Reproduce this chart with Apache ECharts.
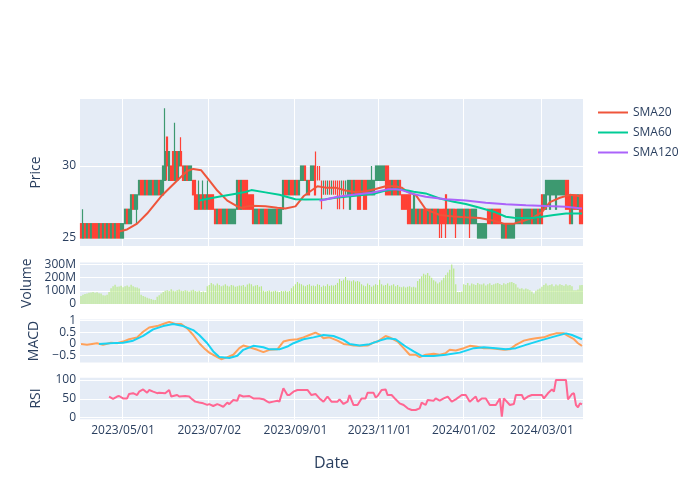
<!DOCTYPE html>
<html><head><meta charset="utf-8">
<script src="https://cdn.jsdelivr.net/npm/echarts@6/dist/echarts.min.js"></script>
<style>html,body{margin:0;padding:0;background:#fff}#c{width:700px;height:500px}</style>
</head><body><div id="c"></div>
<script>
// ---------- data ----------
const startDate = '2023-03-30';
const nDays = 251;
const holidays = ['2023-04-07','2023-05-29','2023-06-19','2023-07-04','2023-09-04','2023-11-23','2023-12-25','2024-01-01','2024-01-15','2024-02-19'];

const tickIdx = [21, 64, 107, 149, 191, 230];
const tickLabels = ['2023/05/01','2023/07/02','2023/09/01','2023/11/01','2024/01/02','2024/03/01'];

const opens = [
26,25,26,25,26,25,26,26,26,25, 26,25,26,25,26,25,26,25,26,26,
25,25,26,27,26,26,28,27,27,28, 29,29,28,29,28,28,29,28,28,29,
28,28,29,32,29,30,31,29,31,30, 31,30,29,30,29,29,29,29,28,27,
28,27,28,27,28,28,28,27,26,27, 27,26,26,27,26,26,26,26,27,29,
27,29,29,29,28,28,28,26,26,27, 26,26,27,27,26,26,26,26,27,26,
26,27,29,29,28,29,29,28,29,28, 29,29,30,28,29,29,29,30,30,30,
29,28,29,28,29,28,29,29,29,29, 28,29,28,28,27,29,28,29,29,29,
28,29,29,28,28,28,28,29,29,29, 29,29,30,30,29,28,29,29,28,29,
28,28,28,28,28,26,26,27,26,27, 26,27,27,26,27,26,27,27,26,27,
27,27,28,26,27,26,27,27,26,26, 26,27,26,26,27,26,26,26,25,25,
25,25,25,27,27,26,27,27,27,27, 25,25,26,25,25,25,25,26,26,26,
27,26,26,26,26,27,26,26,27,26, 28,27,27,28,27,28,28,27,28,28,
28,28,29,29,28,26,28,28,27,28, 28];
const closes = [
25,26,25,26,25,26,25,25,25,26, 25,26,25,26,25,26,25,26,25,25,
26,26,27,26,27,28,27,28,28,29, 28,28,29,28,29,29,28,29,29,28,
29,30,31,30,31,29,29,31,29,31, 30,29,30,29,30,30,28,27,27,28,
27,28,27,28,27,27,27,26,27,26, 26,27,27,26,27,27,27,27,29,27,
29,27,27,27,27,27,26,27,27,26, 27,27,26,26,27,27,27,27,26,27,
27,29,28,28,29,28,28,29,28,29, 30,30,29,29,28,30,30,28,29,29,
27,29,28,29,28,29,28,28,27,27, 29,27,29,29,29,28,29,28,27,27,
29,27,27,29,29,29,29,30,30,30, 30,30,28,28,28,29,28,28,29,28,
27,27,27,26,26,27,28,26,27,26, 27,26,26,27,26,27,26,26,27,26,
26,26,26,27,26,27,26,26,27,27, 27,26,27,27,26,27,27,27,26,26,
26,26,26,26,26,27,26,26,26,26, 26,26,25,26,26,26,26,27,27,27,
26,27,27,27,27,26,27,27,26,27, 26,28,29,29,29,29,29,29,29,29,
29,29,27,27,26,28,27,27,28,26, 26];
const lows = [
25,25,25,25,25,25,25,25,25,25, 25,25,25,25,25,25,25,25,25,25,
25,25,26,26,26,26,27,27,26,28, 28,28,28,28,28,28,28,28,28,28,
28,28,29,29,29,29,29,29,29,29, 30,29,29,29,29,29,28,27,27,27,
27,27,27,27,27,27,27,26,26,26, 26,26,26,26,26,26,26,26,27,27,
27,27,27,27,27,27,26,26,26,26, 26,26,26,26,26,26,26,26,26,26,
26,27,28,28,28,28,28,28,28,28, 29,29,29,28,28,29,29,28,29,29,
27,28,28,28,28,28,28,28,27,27, 28,27,28,28,27,28,28,28,27,27,
28,27,27,28,28,28,28,29,29,29, 29,29,28,28,28,28,28,28,28,28,
27,27,27,26,26,26,26,26,26,26, 26,26,26,26,26,26,26,26,26,25,
25,26,25,26,26,26,26,25,26,26, 26,26,26,26,25,26,26,26,25,25,
25,25,25,26,26,26,26,26,26,26, 25,25,25,25,25,25,25,26,26,26,
26,26,26,26,26,26,26,26,26,26, 26,27,27,28,27,28,28,27,28,28,
28,28,27,27,26,26,27,27,27,26, 26];
const highs = [
26,27,26,26,26,26,26,26,26,26, 26,26,26,26,26,26,26,26,26,26,
26,26,27,27,27,28,28,28,28,29, 29,29,29,29,29,29,29,29,29,29,
29,30,34,32,31,30,31,33,31,31, 32,30,30,30,30,30,29,29,28,29,
28,29,28,29,28,28,28,27,27,27, 27,27,27,27,27,27,27,27,29,29,
29,29,29,29,28,28,28,27,27,27, 27,27,27,27,27,27,27,27,27,27,
27,29,29,29,29,29,29,29,29,29, 30,30,30,29,29,30,30,31,30,30,
29,29,29,29,29,29,29,29,29,29, 29,29,29,29,29,29,29,29,29,29,
29,29,29,29,29,30,29,30,30,30, 30,30,30,30,29,29,29,29,29,29,
28,28,28,28,28,27,28,27,27,27, 27,27,27,27,27,27,27,27,27,27,
27,27,28,27,27,27,27,27,27,27, 27,27,27,27,27,27,27,27,26,26,
26,26,26,27,27,27,27,27,27,27, 26,26,26,26,26,26,26,27,27,27,
27,27,27,27,27,27,27,27,27,27, 28,28,29,29,29,29,29,29,29,29,
29,29,29,29,28,28,28,28,28,28, 28];
// volume, millions
const volumes = [
60,70,75,80,85,88,92,85,90,82, 80,67,65,70,92,120,135,147,130,132,
138,128,135,140,130,147,135,128,125,117, 70,60,55,48,42,38,33,30,55,67,
80,92,100,105,98,112,100,96,105,110, 100,98,105,100,95,102,108,98,95,100,
92,95,90,135,145,160,150,140,155,145, 135,140,150,138,132,145,140,130,135,140,
138,145,130,148,155,150,135,140,145,130, 135,100,95,98,102,95,97,100,95,92,
98,96,100,95,98,120,135,150,167,155, 150,140,135,145,150,138,140,135,150,145,
130,140,135,150,138,142,140,145,160,190, 175,185,205,180,178,172,180,170,175,168,
150,140,135,155,145,130,140,150,145,185, 150,140,145,155,138,142,150,135,145,130,
128,132,125,130,135,128,130,125,175,190, 210,230,222,235,215,200,180,170,155,165,
180,200,220,240,260,300,270,150,92,92, 95,150,145,160,140,155,150,145,160,150,
148,155,140,150,158,145,150,155,160,152, 145,158,150,160,165,167,160,150,125,115,
120,110,118,112,105,95,80,100,110,117, 130,145,155,140,145,150,135,148,140,150,
145,138,150,140,145,135,105,105,110,142, 145];

const sma20Idx = [19,23,28,33,40,48,53,56,60,64,68,73,78,80,83,85,92,98,102,107,111,115,118,122,127,132,137,142,147,152,157,160,163,167,172,179,186,192,199,206,211,216,221,226,230,234,239,244,249,250];
const sma20Val = [25.45,25.6,26.0,26.7,27.9,29.0,29.65,29.8,29.7,29.0,28.3,27.6,27.2,27.1,27.2,27.25,27.2,27.1,27.05,27.2,27.9,28.3,28.6,28.5,28.5,28.3,28.2,28.25,28.4,28.6,28.6,28.5,28.2,28.0,27.0,26.6,26.5,26.45,26.4,26.2,26.0,26.0,26.2,26.45,26.8,27.5,27.8,28.0,27.9,27.9];
const sma60Idx = [59,62,70,78,82,85,92,99,107,112,122,127,137,147,152,157,163,166,172,179,186,192,199,206,212,216,224,230,236,242,250];
const sma60Val = [27.6,27.7,27.9,28.1,28.2,28.33,28.17,28.0,27.7,27.68,27.69,27.8,27.94,28.1,28.29,28.4,28.3,28.22,28.1,27.75,27.52,27.36,27.1,26.83,26.48,26.41,26.37,26.48,26.6,26.71,26.71];
const sma120Idx = [119,121,128,137,145,153,157,160,166,172,182,192,202,212,222,232,242,250];
const sma120Val = [27.6,27.64,27.87,28.03,28.15,28.38,28.38,28.33,28.05,27.87,27.69,27.6,27.45,27.34,27.27,27.22,27.18,27.06];

const macdIdx = [0,3,8,11,15,18,21,24,28,31,34,38,41,44,47,50,53,56,59,62,64,68,70,73,76,79,81,84,88,91,94,98,101,104,108,111,114,117,119,121,124,128,131,134,136,139,143,146,148,152,154,158,161,164,167,169,172,176,179,182,184,187,191,194,197,201,204,207,211,214,217,221,224,227,231,234,237,241,243,246,248,250];
const macdVal = [0.0,-0.03,0.03,-0.04,0.05,0.03,0.1,0.2,0.28,0.52,0.7,0.76,0.85,0.94,0.85,0.85,0.66,0.38,0.03,-0.23,-0.37,-0.56,-0.65,-0.56,-0.46,-0.18,-0.07,-0.14,-0.25,-0.35,-0.25,-0.23,0.1,0.17,0.2,0.28,0.38,0.48,0.4,0.24,0.28,0.14,0.0,-0.04,-0.07,-0.08,-0.07,0.06,0.1,0.34,0.28,0.1,-0.18,-0.46,-0.46,-0.56,-0.46,-0.42,-0.46,-0.39,-0.25,-0.28,-0.18,-0.08,-0.11,-0.18,-0.18,-0.21,-0.25,-0.23,-0.04,0.14,0.2,0.24,0.28,0.38,0.45,0.45,0.34,0.2,0.03,-0.08];
const signalIdx = [9,15,21,26,31,36,41,46,51,56,59,63,66,69,74,78,81,86,91,94,99,103,106,111,116,121,126,131,134,139,144,149,153,157,162,166,170,176,182,189,196,201,207,212,217,222,229,236,242,245,250];
const signalVal = [0.0,0.03,0.05,0.14,0.34,0.62,0.76,0.85,0.76,0.59,0.38,0.03,-0.32,-0.56,-0.6,-0.5,-0.25,-0.08,-0.14,-0.23,-0.23,-0.11,0.03,0.2,0.28,0.38,0.34,0.17,0.0,-0.07,-0.01,0.14,0.24,0.2,-0.11,-0.32,-0.51,-0.51,-0.46,-0.37,-0.18,-0.14,-0.18,-0.23,-0.18,-0.04,0.14,0.31,0.45,0.38,0.2];

const rsiIdx = [14,16,18,19,21,23,24,26,28,29,31,33,34,36,38,39,42,44,45,48,49,52,54,55,57,59,61,63,64,66,68,69,71,73,74,76,78,79,81,84,86,89,91,93,94,96,98,99,101,103,104,106,108,111,113,115,117,119,121,123,125,128,129,131,133,134,136,138,140,142,143,146,147,148,150,152,153,155,157,159,161,163,165,167,169,170,172,173,176,177,179,181,183,185,187,190,192,194,197,198,200,202,204,207,209,210,211,214,216,217,220,221,223,225,227,230,231,233,235,236,237,242,243,245,246,247,248,249,250];
const rsiVal = [56,50,56,57.5,51,51,63,65,60,69,75,66,73.5,69,65,66,65,73.5,56,60,56,57.5,56,51,42.5,40,38,34,36,31,36,34,29,40,36,47,45,60,56,57.5,51,51,49,42.5,40,42.5,45,42.5,78,60,60,69,73.5,73.5,73.5,60,63,51,42.5,56,42.5,42.5,48.7,36.3,42.5,60,33.6,33.6,51,51,66,66,54,57.5,73.5,75,60,60,48.7,38,33.6,24.8,20.4,20.4,24.8,40,33.6,47,45,51,45,51,56,42.5,48.7,60,60,42.5,56,42.5,51,51,33.6,33.6,51,3,51,33.6,36.3,60,60,48.7,56,60,60,60,51,64.6,75,69,100,100,48.7,62.8,64.6,33.6,27.4,38,35.4];

// ---------- build ----------
function tradingDays(start, n, hol) {
  const out = [];
  const d = new Date(start + 'T00:00:00Z');
  while (out.length < n) {
    const wd = d.getUTCDay();
    const iso = d.toISOString().slice(0, 10);
    if (wd !== 0 && wd !== 6 && hol.indexOf(iso) < 0) out.push(iso.replace(/-/g, '/'));
    d.setUTCDate(d.getUTCDate() + 1);
  }
  return out;
}
const categories = tradingDays(startDate, nDays, holidays);
const candles = closes.map((c, i) => [opens[i], c, lows[i], highs[i]]);
const pairs = (ix, v) => ix.map((x, k) => [x, v[k]]);

const FONT = '"Open Sans", verdana, arial, sans-serif';
const TXT = '#2a3f5f';
const BG = '#E5ECF6';
const L = 80, W = 503;
const grids = [
  { left: L, width: W, top: 99, height: 147 },
  { left: L, width: W, top: 262.5, height: 41.5 },
  { left: L, width: W, top: 319.5, height: 43 },
  { left: L, width: W, top: 377.7, height: 41.6 }
].map(g => Object.assign(g, { show: true, backgroundColor: BG, borderWidth: 0 }));

const isTick = (i) => tickIdx.indexOf(i) >= 0;
function xAx(gi, showLabel) {
  const ax = {
    type: 'category', gridIndex: gi, data: categories, boundaryGap: true,
    axisLine: { show: false }, axisTick: { show: false },
    axisLabel: { show: showLabel, interval: (i) => isTick(i), margin: 5,
      formatter: (v, i) => tickLabels[tickIdx.indexOf(i)] || '',
      fontFamily: FONT, fontSize: 12, color: TXT },
    splitLine: { show: true, interval: (i) => isTick(i), lineStyle: { color: '#fff', width: 1 } }
  };
  if (showLabel) {
    ax.name = 'Date'; ax.nameLocation = 'middle'; ax.nameGap = 36;
    ax.nameTextStyle = { fontFamily: FONT, fontSize: 16, color: TXT };
  }
  return ax;
}
function yAx(gi, name, min, max, ticks, fmt) {
  return {
    type: 'value', gridIndex: gi, min: min, max: max, name: name, position: 'left',
    nameLocation: 'middle', nameGap: 37,
    nameTextStyle: { fontFamily: FONT, fontSize: 14, color: TXT },
    axisLine: { show: false },
    axisTick: { show: false, customValues: ticks },
    axisLabel: { customValues: ticks, margin: 4, hideOverlap: false, showMinLabel: true, showMaxLabel: true,
      fontFamily: FONT, fontSize: 12, color: TXT, formatter: fmt },
    splitLine: { show: true, lineStyle: { color: '#fff', width: 1 } }
  };
}
const minus = (v) => v < 0 ? '\u2212' + Math.abs(v) : String(v);
// MACD ticks are close together: split across two coincident axes so none is dropped
const macdTicksA = [-0.5, 0.5];
const macdTicksB = [0, 1];
const macdAxisB = yAx(2, '', -0.79, 1.04, macdTicksB, minus);

const option = {
  animation: false,
  textStyle: { fontFamily: FONT },
  grid: grids,
  legend: {
    data: ['SMA20', 'SMA60', 'SMA120'], orient: 'vertical', left: 598, top: 104.5, padding: 0,
    icon: 'rect', itemWidth: 30, itemHeight: 2, itemGap: 4,
    textStyle: { fontFamily: FONT, fontSize: 12, color: TXT, lineHeight: 16 }
  },
  xAxis: [xAx(0, false), xAx(1, false), xAx(2, false), xAx(3, true)],
  yAxis: [
    yAx(0, 'Price', 24.45, 34.65, [25, 30], (v) => String(v)),
    yAx(1, 'Volume', 0, 315, [0, 100, 200, 300], (v) => v === 0 ? '0' : v + 'M'),
    yAx(2, 'MACD', -0.79, 1.04, macdTicksA, minus),
    yAx(3, 'RSI', -4.3, 106, [0, 50, 100], (v) => String(v)),
    macdAxisB
  ],
  series: [
    { type: 'candlestick', name: 'Price', xAxisIndex: 0, yAxisIndex: 0, data: candles, barWidth: '72%',
      itemStyle: { color: 'rgba(61,153,112,0.7)', color0: 'rgba(255,65,54,0.7)', borderColor: '#3D9970', borderColor0: '#FF4136', borderWidth: 1.2 } },
    { type: 'line', name: 'SMA20', xAxisIndex: 0, yAxisIndex: 0, data: pairs(sma20Idx, sma20Val), symbol: 'none',
      lineStyle: { color: '#EF553B', width: 2 }, itemStyle: { color: '#EF553B' } },
    { type: 'line', name: 'SMA60', xAxisIndex: 0, yAxisIndex: 0, data: pairs(sma60Idx, sma60Val), symbol: 'none',
      lineStyle: { color: '#00CC96', width: 2 }, itemStyle: { color: '#00CC96' } },
    { type: 'line', name: 'SMA120', xAxisIndex: 0, yAxisIndex: 0, data: pairs(sma120Idx, sma120Val), symbol: 'none',
      lineStyle: { color: '#AB63FA', width: 2 }, itemStyle: { color: '#AB63FA' } },
    { type: 'bar', name: 'Volume', xAxisIndex: 1, yAxisIndex: 1, data: volumes, barWidth: '55%',
      itemStyle: { color: '#B6E880' } },
    { type: 'line', name: 'MACD', xAxisIndex: 2, yAxisIndex: 2, data: pairs(macdIdx, macdVal), symbol: 'none',
      lineStyle: { color: '#FFA15A', width: 2 } },
    { type: 'line', name: 'Signal', xAxisIndex: 2, yAxisIndex: 2, data: pairs(signalIdx, signalVal), symbol: 'none',
      lineStyle: { color: '#19D3F3', width: 2 } },
    { type: 'line', name: 'RSI', xAxisIndex: 3, yAxisIndex: 3, data: pairs(rsiIdx, rsiVal), symbol: 'none',
      lineStyle: { color: '#FF6692', width: 2 } }
  ]
};
const chart = echarts.init(document.getElementById('c'), null, { renderer: 'canvas' });
chart.setOption(option);
</script></body></html>
